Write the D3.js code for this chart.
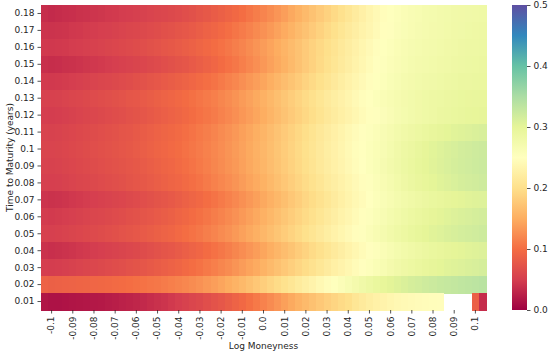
<!DOCTYPE html>
<html>
<head>
<meta charset="utf-8">
<script src="https://cdn.jsdelivr.net/npm/d3@7/dist/d3.min.js"></script>
<style>
  html, body { margin: 0; padding: 0; background: #fff; }
  svg { display: block; font-family: "DejaVu Sans", sans-serif; }
</style>
</head>
<body>
<svg id="chart" width="550" height="354"></svg>
<script>
// ---- data ----
const maturities = ["0.18","0.17","0.16","0.15","0.14","0.13","0.12","0.11","0.1","0.09","0.08","0.07","0.06","0.05","0.04","0.03","0.02","0.01"];
const xTickLabels = ["-0.1","-0.09","-0.08","-0.07","-0.06","-0.05","-0.04","-0.03","-0.02","-0.01","0.0","0.01","0.02","0.03","0.04","0.05","0.06","0.07","0.08","0.09","0.1"];
const xTickColumns = [1,4,7,10,13,16,19,22,25,28,31,34,37,40,43,46,49,52,55,58,61];
const colorTicks = [0.0, 0.1, 0.2, 0.3, 0.4, 0.5];
const spectral = ["#9e0142","#d53e4f","#f46d43","#fdae61","#fee08b","#ffffbf","#e6f598","#abdda4","#66c2a5","#3288bd","#5e4fa2"];

const row018 = [.036,.034,.035,.037,.038,.040,.041,.043,.044,.046, .047,.049,.050,.052,.054,.056,.058,.060,.062,.064, .067,.070,.074,.078,.082,.086,.090,.095,.100,.106, .112,.118,.124,.131,.138,.146,.154,.162,.170,.178, .186,.194,.202,.210,.218,.226,.234,.240,.246,.252, .257,.261,.264,.267,.270,.272,.274,.276,.278,.279,.280,.281,.282];
const row017 = [.042,.041,.042,.043,.045,.046,.048,.049,.051,.052, .054,.056,.058,.060,.062,.064,.066,.069,.071,.074, .077,.080,.084,.088,.092,.096,.101,.106,.111,.116, .122,.128,.134,.141,.148,.155,.163,.170,.178,.186, .194,.201,.209,.216,.223,.230,.236,.242,.248,.253, .258,.262,.265,.268,.271,.273,.275,.277,.279,.280,.282,.283,.284];
const row016 = [.046,.045,.046,.047,.049,.050,.052,.053,.055,.057, .059,.061,.063,.065,.067,.070,.072,.075,.078,.081, .084,.087,.091,.095,.099,.103,.108,.113,.118,.124, .130,.136,.142,.149,.156,.163,.170,.178,.186,.193, .200,.207,.214,.221,.228,.235,.241,.247,.252,.257, .261,.265,.268,.271,.273,.275,.277,.279,.281,.283,.284,.285,.286];
const row015 = [.038,.036,.037,.039,.040,.042,.044,.045,.047,.049, .051,.053,.055,.057,.059,.062,.064,.067,.070,.073, .076,.080,.084,.088,.093,.098,.103,.108,.114,.120, .126,.133,.140,.147,.154,.162,.170,.178,.186,.194, .202,.209,.216,.223,.230,.237,.243,.249,.254,.259, .263,.267,.270,.273,.275,.277,.279,.281,.283,.285,.286,.287,.288];
const row014 = [.047,.046,.047,.048,.050,.052,.054,.056,.058,.060, .062,.064,.066,.069,.071,.074,.077,.080,.083,.086, .089,.093,.097,.101,.105,.110,.115,.120,.126,.132, .138,.144,.151,.158,.165,.172,.179,.187,.194,.201, .208,.215,.222,.229,.235,.241,.247,.252,.257,.262, .266,.270,.273,.276,.278,.280,.282,.284,.286,.288,.289,.290,.291];
const row013 = [.054,.053,.054,.056,.058,.060,.062,.064,.066,.068, .070,.072,.075,.077,.080,.083,.086,.089,.092,.095, .098,.102,.106,.110,.114,.119,.124,.129,.135,.141, .147,.153,.160,.167,.174,.181,.188,.195,.202,.209, .216,.222,.228,.234,.240,.246,.251,.256,.261,.265, .269,.273,.276,.279,.282,.284,.286,.288,.290,.292,.293,.294,.295];
const row012 = [.050,.049,.050,.052,.054,.056,.058,.060,.062,.064, .066,.068,.071,.073,.076,.079,.082,.085,.088,.091, .095,.099,.103,.107,.111,.116,.121,.126,.132,.138, .144,.150,.157,.164,.171,.178,.185,.192,.199,.206, .213,.219,.225,.231,.237,.243,.248,.253,.258,.263, .268,.272,.276,.279,.282,.285,.288,.290,.292,.294,.296,.297,.298];
const row011 = [.055,.054,.055,.057,.059,.061,.063,.065,.067,.069, .071,.074,.076,.079,.082,.085,.088,.091,.094,.097, .101,.105,.109,.113,.118,.123,.128,.133,.139,.145, .151,.157,.164,.171,.178,.185,.192,.199,.206,.213, .220,.226,.232,.238,.244,.249,.254,.259,.264,.269, .274,.279,.283,.287,.291,.295,.298,.301,.304,.306,.308,.310,.312];
const row010 = [.057,.056,.057,.059,.061,.063,.065,.067,.069,.071, .073,.076,.078,.081,.084,.087,.090,.093,.096,.099, .103,.107,.111,.115,.120,.125,.130,.135,.141,.147, .153,.159,.166,.173,.180,.187,.194,.201,.208,.215, .222,.228,.234,.240,.246,.251,.256,.261,.266,.272, .278,.284,.289,.294,.299,.303,.307,.310,.313,.316,.318,.320,.322];
const row009 = [.055,.054,.055,.057,.059,.061,.063,.065,.067,.069, .071,.073,.076,.078,.081,.084,.087,.090,.093,.097, .101,.105,.109,.114,.119,.124,.129,.134,.140,.146, .152,.158,.165,.172,.179,.186,.193,.200,.207,.214, .221,.227,.233,.239,.245,.250,.256,.262,.268,.274, .280,.286,.291,.296,.300,.304,.308,.311,.314,.317,.319,.321,.323];
const row008 = [.052,.051,.052,.054,.056,.058,.060,.062,.064,.066, .068,.070,.073,.075,.078,.081,.084,.087,.090,.093, .097,.101,.105,.110,.115,.120,.125,.130,.136,.142, .148,.154,.161,.168,.175,.182,.189,.196,.203,.210, .217,.223,.229,.235,.241,.247,.253,.259,.265,.271, .277,.283,.288,.293,.297,.301,.305,.308,.311,.314,.316,.318,.320];
const row007 = [.042,.040,.041,.043,.045,.047,.049,.051,.053,.055, .057,.059,.062,.064,.067,.070,.073,.076,.079,.083, .087,.091,.095,.100,.105,.110,.115,.121,.127,.133, .139,.146,.153,.160,.167,.175,.182,.190,.197,.204, .211,.218,.225,.232,.238,.244,.250,.256,.262,.267, .272,.277,.281,.285,.289,.292,.295,.298,.300,.302,.304,.306,.307];
const row006 = [.048,.047,.048,.050,.052,.054,.056,.058,.060,.062, .064,.066,.069,.071,.074,.077,.080,.083,.086,.090, .094,.098,.102,.107,.112,.117,.122,.128,.134,.140, .146,.153,.160,.167,.174,.181,.188,.195,.202,.209, .216,.223,.230,.236,.242,.248,.254,.260,.266,.272, .277,.282,.287,.291,.295,.299,.302,.305,.308,.310,.312,.314,.316];
const row005 = [.053,.052,.053,.055,.057,.059,.061,.063,.065,.067, .069,.072,.074,.077,.080,.083,.086,.089,.092,.096, .100,.104,.108,.113,.118,.123,.128,.134,.140,.146, .152,.159,.166,.173,.180,.187,.194,.201,.208,.215, .222,.229,.235,.241,.247,.253,.259,.265,.271,.277, .282,.287,.292,.296,.300,.304,.307,.310,.313,.315,.317,.319,.321];
const row004 = [.040,.038,.039,.041,.043,.045,.047,.049,.051,.053, .055,.057,.060,.062,.065,.068,.071,.074,.077,.081, .085,.089,.093,.098,.103,.108,.113,.119,.125,.131, .137,.144,.151,.158,.165,.172,.180,.187,.195,.202, .209,.216,.223,.230,.237,.243,.249,.255,.261,.267, .272,.277,.281,.285,.289,.292,.295,.298,.300,.302,.304,.306,.308];
const row003 = [.050,.049,.050,.052,.054,.056,.058,.060,.062,.064, .066,.068,.071,.073,.076,.079,.082,.085,.088,.092, .096,.100,.104,.109,.114,.119,.124,.130,.136,.142, .148,.155,.162,.169,.176,.183,.190,.197,.204,.211, .218,.225,.231,.237,.243,.249,.255,.261,.267,.273, .278,.283,.287,.291,.295,.298,.301,.304,.306,.308,.310,.312,.314];
const row002 = [.088,.086,.087,.088,.089,.090,.091,.093,.094,.095, .097,.098,.100,.102,.104,.106,.108,.111,.114,.117, .120,.124,.128,.133,.138,.143,.149,.155,.161,.168, .175,.182,.189,.196,.203,.210,.217,.224,.231,.238, .245,.252,.259,.266,.273,.280,.286,.292,.297,.302, .306,.310,.314,.317,.320,.323,.326,.328,.330,.332,.334,.336,.338];
const row001 = [.016,.014,.014,.015,.016,.017,.018,.019,.020,.022, .024,.026,.028,.030,.033,.036,.039,.042,.046,.050, .054,.058,.062,.067,.072,.077,.083,.089,.095,.102, .109,.116,.123,.131,.139,.147,.155,.162,.169,.176, .183,.189,.195,.200,.210,.216,.222,.227,.231,.235, .238,.240,.242,.244,.245,.246,.247,null,null,null, null,.085,.035];

const ivRows = [row018,row017,row016,row015,row014,row013,row012,row011,row010,row009,row008,row007,row006,row005,row004,row003,row002,row001];

// ---- layout ----
const svg = d3.select("#chart");
const plot = {left: 41, right: 486, top: 5, bottom: 310};
const cbar = {left: 512, width: 15};
const textColor = "#262626";
const nCols = row018.length;

const x = d3.scaleBand().domain(d3.range(nCols)).range([plot.left, plot.right]);
const y = d3.scaleBand().domain(maturities).range([plot.top, plot.bottom]);
const color = d3.scaleLinear()
  .domain(spectral.map((_, i) => i * 0.05))
  .range(spectral)
  .interpolate(d3.interpolateRgb)
  .clamp(true);

const cells = [];
ivRows.forEach((row, ri) => row.forEach((v, ci) => {
  if (v !== null) cells.push({m: maturities[ri], c: ci, v});
}));

svg.append("g").selectAll("rect").data(cells).join("rect")
  .attr("x", d => x(d.c))
  .attr("y", d => y(d.m))
  .attr("width", x.bandwidth() + 0.5)
  .attr("height", y.bandwidth() + 0.5)
  .attr("fill", d => color(d.v))
  .attr("shape-rendering", "crispEdges");

// y axis
const yAxis = d3.axisLeft(y).tickSize(3.5).tickPadding(3);
const gy = svg.append("g").attr("transform", `translate(${plot.left},0)`).call(yAxis);
gy.select(".domain").remove();
gy.selectAll("line").attr("stroke", textColor).attr("stroke-width", 0.8);
gy.selectAll("text").attr("fill", textColor).style("font-size", "9px").style("font-family", "DejaVu Sans");

// x axis
const xAxis = d3.axisBottom(x).tickValues(xTickColumns)
  .tickFormat(c => xTickLabels[xTickColumns.indexOf(c)])
  .tickSize(3.5).tickPadding(3);
const gx = svg.append("g").attr("transform", `translate(0,${plot.bottom})`).call(xAxis);
gx.select(".domain").remove();
gx.selectAll("line").attr("stroke", textColor).attr("stroke-width", 0.8);
gx.selectAll("text")
  .attr("fill", textColor)
  .style("font-size", "9px").style("font-family", "DejaVu Sans")
  .attr("text-anchor", "end")
  .attr("dy", "0.32em")
  .attr("transform", "rotate(-90)")
  .attr("x", -6.5)
  .attr("y", 0);

// axis titles
svg.append("text")
  .attr("x", (plot.left + plot.right) / 2).attr("y", 349)
  .attr("text-anchor", "middle").attr("fill", textColor)
  .style("font-size", "9px").text("Log Moneyness");
svg.append("text")
  .attr("transform", `translate(10,${(plot.top + plot.bottom) / 2}) rotate(-90)`)
  .attr("text-anchor", "middle").attr("dy", "0.32em").attr("fill", textColor)
  .style("font-size", "9px").text("Time to Maturity (years)");

// colorbar
const defs = svg.append("defs");
const grad = defs.append("linearGradient").attr("id", "cbgrad")
  .attr("x1", "0").attr("y1", "1").attr("x2", "0").attr("y2", "0");
spectral.forEach((c, i) => grad.append("stop")
  .attr("offset", `${i * 10}%`).attr("stop-color", c));
const cy = d3.scaleLinear().domain([0, 0.5]).range([plot.bottom, plot.top]);
svg.append("rect")
  .attr("x", cbar.left).attr("y", plot.top)
  .attr("width", cbar.width).attr("height", plot.bottom - plot.top)
  .attr("fill", "url(#cbgrad)");
const cAxis = d3.axisRight(cy).tickValues(colorTicks).tickFormat(d3.format(".1f")).tickSize(3.5).tickPadding(3);
const gc = svg.append("g").attr("transform", `translate(${cbar.left + cbar.width},0)`).call(cAxis);
gc.select(".domain").remove();
gc.selectAll("line").attr("stroke", textColor).attr("stroke-width", 0.8);
gc.selectAll("text").attr("fill", textColor).style("font-size", "9px").style("font-family", "DejaVu Sans");
</script>
</body>
</html>
